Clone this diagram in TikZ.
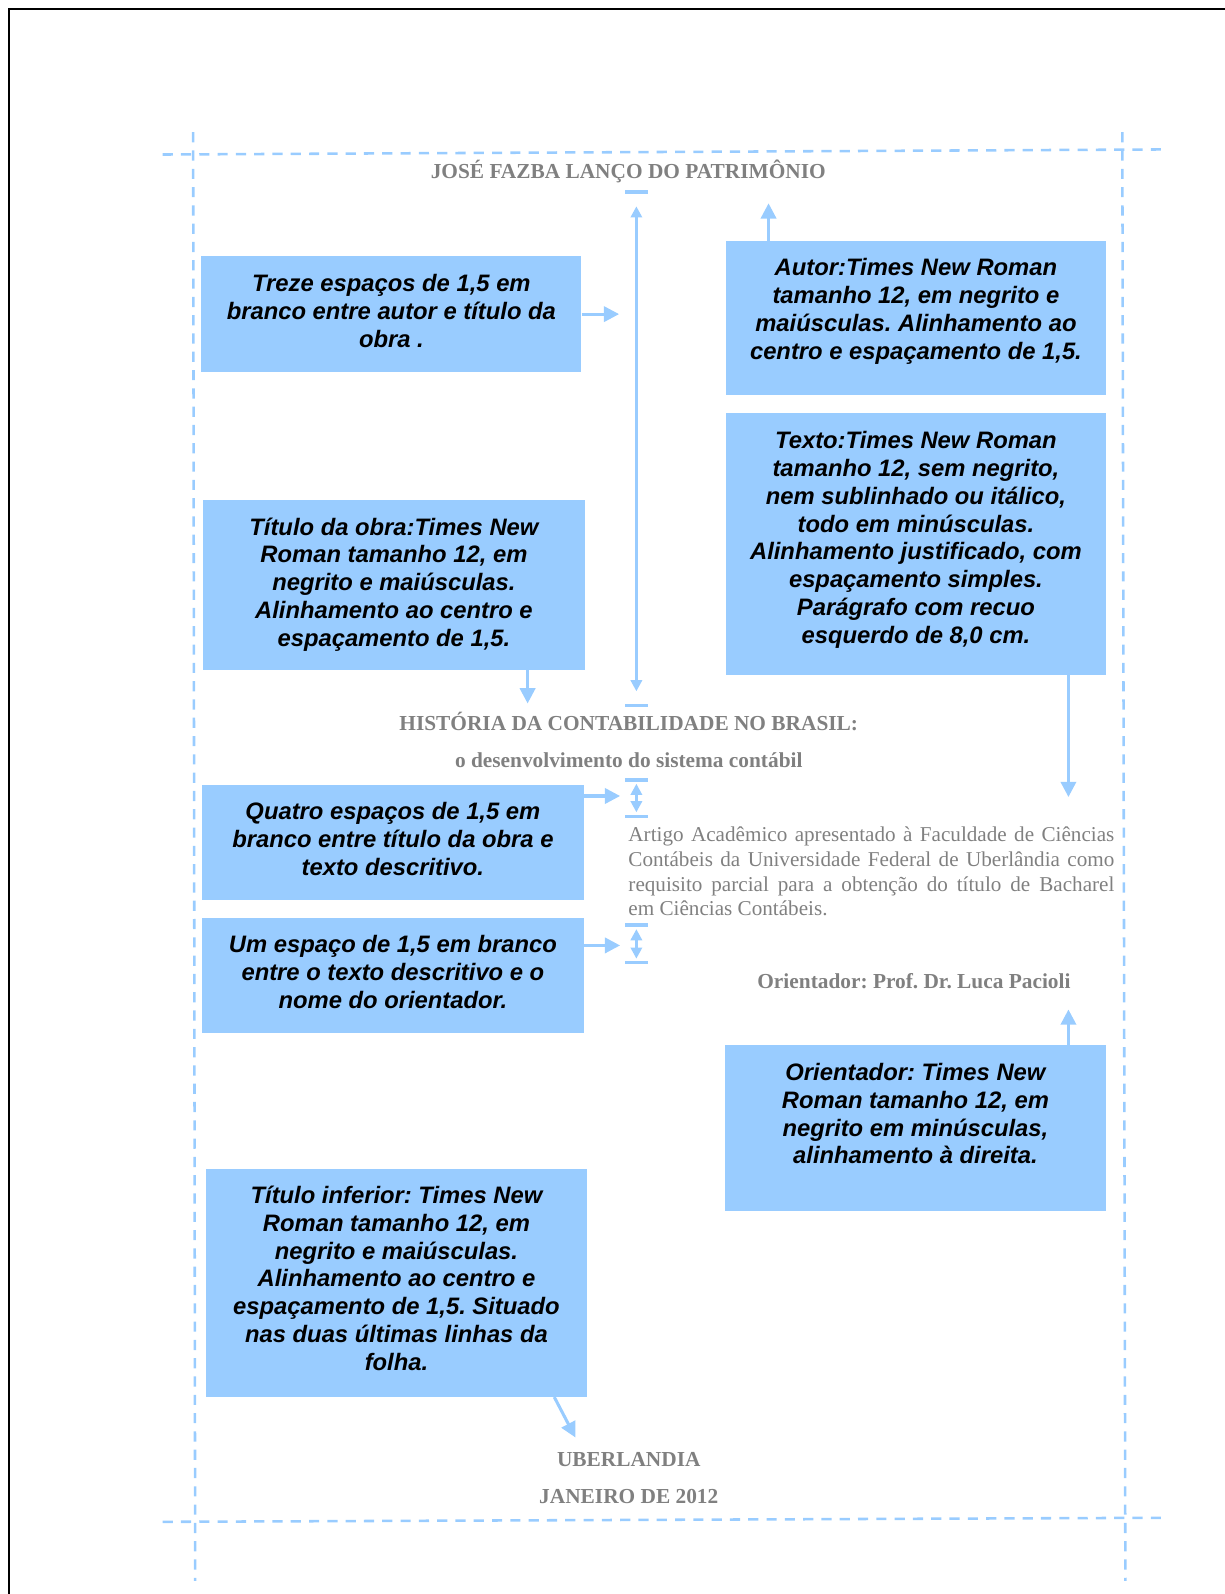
\documentclass[tikz,border=0pt]{standalone}
\usepackage{fontspec}
\setmainfont{Liberation Serif}
\setsansfont{Liberation Sans}
\usetikzlibrary{arrows.meta}
\frenchspacing
\definecolor{lb}{HTML}{99CCFF}
\definecolor{gr}{HTML}{808080}
\tikzset{
  bx/.style={fill=lb, draw=none, inner sep=0pt},
  bt/.style={font=\sffamily\bfseries\itshape\fontsize{23.4}{27.4}\selectfont, align=center, inner sep=0pt},
  gt/.style={font=\bfseries\fontsize{21}{24}\selectfont, text=gr, inner sep=0pt, anchor=base},
  ptx/.style={font=\fontsize{20.8}{24}\selectfont, text=gr, inner sep=0pt, anchor=base west},
  ar/.style={lb, line width=3pt, -{Triangle[width=15pt,length=15pt]}},
  dar/.style={lb, line width=3pt, {Triangle[width=11pt,length=11pt]}-{Triangle[width=11pt,length=11pt]}},
  barn/.style={fill=lb, draw=none, inner sep=0pt, minimum width=23pt, minimum height=3.5pt},
  guide/.style={lb, line width=2.5pt, dash pattern=on 10pt off 8pt},
}
\begin{document}
\begin{tikzpicture}[x=1pt,y=-1pt]
\useasboundingbox (0,0) rectangle (1205,1568);
% page frame
\draw[line width=2.5pt] (9,1568) -- (9,9) -- (1205,9);
% guides
\draw[guide] (160,152) -- (1145,147);
\draw[guide] (160,1497) -- (1143,1493);
\draw[guide] (190,130) -- (192,1555);
\draw[guide] (1104,130) -- (1107,1555);

% boxes
\node[bx, minimum width=374pt, minimum height=114pt] (treze) at (385,309) {};
\node[bt] (trezeT) at (385,306) {Treze espaços de 1,5 em\\branco entre autor e título da\\obra .};
\node[bx, minimum width=374pt, minimum height=152pt] (autor) at (901,313) {};
\node[bt] (autorT) at (901,306) {Autor:Times New Roman\\tamanho 12, em negrito e\\maiúsculas. Alinhamento ao\\centro e espaçamento de 1,5.};
\node[bx, minimum width=374pt, minimum height=258pt] (texto) at (901,535) {};
\node[bt] (textoT) at (901,531) {Texto:Times New Roman\\tamanho 12, sem negrito,\\nem sublinhado ou itálico,\\todo em minúsculas.\\Alinhamento justificado, com\\espaçamento simples.\\Parágrafo com recuo\\esquerdo de 8,0 cm.};
\node[bx, minimum width=375pt, minimum height=167pt] (obra) at (387.5,575.5) {};
\node[bt] (obraT) at (387.5,575) {Título da obra:Times New\\Roman tamanho 12, em\\negrito e maiúsculas.\\Alinhamento ao centro e\\espaçamento de 1,5.};
\node[bx, minimum width=375pt, minimum height=113pt] (quatro) at (386.5,828.5) {};
\node[bt] (quatroT) at (386.5,825) {Quatro espaços de 1,5 em\\branco entre título da obra e\\texto descritivo.};
\node[bx, minimum width=375pt, minimum height=113pt] (um) at (386.5,959.5) {};
\node[bt] (umT) at (386.5,956) {Um espaço de 1,5 em branco\\entre o texto descritivo e o\\nome do orientador.};
\node[bx, minimum width=375pt, minimum height=163pt] (orient) at (900.5,1109.5) {};
\node[bt] (orientT) at (900.5,1095.5) {Orientador: Times New\\Roman tamanho 12, em\\negrito em minúsculas,\\alinhamento à direita.};
\node[bx, minimum width=374pt, minimum height=224pt] (inferior) at (390,1262) {};
\node[bt] (inferiorT) at (390,1257.5) {Título inferior: Times New\\Roman tamanho 12, em\\negrito e maiúsculas.\\Alinhamento ao centro e\\espaçamento de 1,5. Situado\\nas duas últimas linhas da\\folha.};

% page texts
\node[gt] (autorname) at (618,176) {JOSÉ FAZBA LANÇO DO PATRIMÔNIO};
\node[gt] (titulo) at (618.5,719) {HISTÓRIA DA CONTABILIDADE NO BRASIL:};
\node[gt] (subtitulo) at (618.5,755) {o desenvolvimento do sistema contábil};
\node[ptx] (p1) at (618,828) {\makebox[478pt][s]{Artigo Acadêmico apresentado à Faculdade de Ciências}};
\node[ptx] (p2) at (618,852.5) {\makebox[478pt][s]{Contábeis da Universidade Federal de Uberlândia como}};
\node[ptx] (p3) at (618,877) {\makebox[478pt][s]{requisito parcial para a obtenção do título de Bacharel}};
\node[ptx] (p4) at (618,901) {em Ciências Contábeis.};
\node[gt] (orientname) at (899,972) {Orientador: Prof. Dr. Luca Pacioli};
\node[gt] (cidade) at (618.5,1443) {UBERLANDIA};
\node[gt] (data) at (618.5,1479) {JANEIRO DE 2012};

% spacing bars
\node[barn] (b1) at (626,189) {};
\node[barn] (b2) at (626,694) {};
\node[barn] (b3) at (626,767) {};
\node[barn] (b4) at (626,803) {};
\node[barn] (b5) at (626,910) {};
\node[barn] (b6) at (626,947) {};
\draw[dar, shorten <=12pt, shorten >=12pt] (b1) -- (b2);
\draw[dar, shorten <=2pt, shorten >=2pt] (b3) -- (b4);
\draw[dar, shorten <=2pt, shorten >=2pt] (b5) -- (b6);

% arrow tips
\coordinate (tTreze) at (609,309);
\coordinate (tAutor) at (756,200);
\coordinate (tObra) at (519,692);
\coordinate (tTexto) at (1051,784);
\coordinate (tQuatro) at (610,783);
\coordinate (tUm) at (610,930);
\coordinate (tOrient) at (1051,993);
\coordinate (tInf) at (566,1414);

\draw[ar] (treze.east) -- (tTreze);
\draw[ar] (autor.north -| tAutor) -- (tAutor);
\draw[ar] (obra.south -| tObra) -- (tObra);
\draw[ar] (texto.south -| tTexto) -- (tTexto);
\draw[ar] (quatro.east |- tQuatro) -- (tQuatro);
\draw[ar] (um.east |- tUm) -- (tUm);
\draw[ar] (orient.north -| tOrient) -- (tOrient);
\draw[ar] ([xshift=-32pt]inferior.south east) -- (tInf);
\end{tikzpicture}
\end{document}
